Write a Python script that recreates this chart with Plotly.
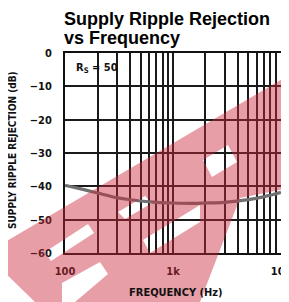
import plotly.graph_objects as go

# ---- data ----
freq_hz = [100, 150, 200, 300, 400, 500, 700, 1000, 1500, 2000, 3000, 5000, 7000, 10000]
ripple_rejection_db = [-39.7, -41.0, -42.0, -43.4, -44.0, -44.4, -44.8, -45.0, -45.1, -45.0, -44.8, -44.0, -43.1, -41.8]

x_tick_vals = [100, 200, 300, 400, 500, 600, 700, 800, 900,
               1000, 2000, 3000, 4000, 5000, 6000, 7000, 8000, 9000, 10000]
x_tick_text = ["100", "", "", "", "", "", "", "", "",
               "1k", "", "", "", "", "", "", "", "", "10k"]
y_tick_vals = [0, -10, -20, -30, -40, -50, -60]

title_lines = ["Supply Ripple Rejection", "vs Frequency"]
x_title = "FREQUENCY (Hz)"
y_title = "SUPPLY RIPPLE REJECTION (dB)"
note_text = "R<sub>S</sub> = 50"

# ---- layout geometry ----
# the page body adds an 8px margin, so the figure is 8px smaller on each side
OFF = 8
W, H = 289 - OFF, 302 - OFF
PL, PR, PT, PB = 65, 281, 53, 253          # plot area in window pixels
ML = PL - OFF
MT = PT - OFF
MR = W - (PR - OFF)
MB = H - (PB - OFF)
PW, PH = PR - PL, PB - PT


def px(x, y):
    """window pixel -> paper coordinates"""
    return (x - PL) / PW, (PB - y) / PH


def path(polys):
    s = ""
    for poly in polys:
        pts = [px(x, y) for x, y in poly]
        s += "M" + " L".join(f"{a:.4f},{b:.4f}" for a, b in pts) + " Z "
    return s


cond = "DejaVu Sans Condensed, Liberation Sans Narrow, Arial Narrow, sans-serif"

fig = go.Figure()
fig.add_trace(go.Scatter(
    x=freq_hz, y=ripple_rejection_db, mode="lines",
    line=dict(color="#707070", width=3.2, shape="spline"),
    hoverinfo="skip", showlegend=False,
))

fig.update_layout(
    width=W, height=H,
    margin=dict(l=ML, r=MR, t=MT, b=MB, pad=0, autoexpand=False),
    paper_bgcolor="white", plot_bgcolor="white",
    showlegend=False,
    xaxis=dict(
        type="log", range=[1.9995, 4.0005],
        tickvals=x_tick_vals, ticktext=x_tick_text,
        ticks="outside", ticklen=7, tickcolor="rgba(0,0,0,0)",
        ticklabeloverflow="allow", automargin=False,
        tickfont=dict(family=cond, size=11, color="#111", weight="bold"),
        showgrid=True, gridcolor="#1a1a1a", gridwidth=1.5,
        showline=True, linecolor="#111", linewidth=2, mirror=True,
        zeroline=False,
    ),
    yaxis=dict(
        range=[-60, 0], tickvals=y_tick_vals,
        ticks="outside", ticklen=9, tickcolor="rgba(0,0,0,0)",
        automargin=False,
        tickfont=dict(family=cond, size=11, color="#111", weight="bold"),
        showgrid=True, gridcolor="#1a1a1a", gridwidth=1.8,
        showline=True, linecolor="#111", linewidth=2, mirror=True,
        zeroline=False,
    ),
)

ann = []
for line, yc in zip(title_lines, [19, 38]):
    ann.append(dict(text=f"<b>{line}</b>", xref="paper", yref="paper",
                    x=px(62, 0)[0], y=px(0, yc)[1], xanchor="left", yanchor="middle",
                    showarrow=False, font=dict(family="Liberation Sans, Arial", size=18, color="#000")))
ann.append(dict(text=f"<b>{x_title}</b>", xref="paper", yref="paper",
                x=px(176, 0)[0], y=px(0, 292)[1], xanchor="center", yanchor="middle",
                showarrow=False, font=dict(family=cond, size=11, color="#111")))
ann.append(dict(text=f"<b>{y_title}</b>", xref="paper", yref="paper",
                x=px(12, 0)[0], y=px(0, 150)[1], xanchor="center", yanchor="middle",
                textangle=-90, showarrow=False, font=dict(family=cond, size=10, color="#111")))
ann.append(dict(text=f"<b>{note_text}</b>", xref="paper", yref="paper",
                x=px(97, 0)[0], y=px(0, 68)[1], xanchor="center", yanchor="middle",
                showarrow=False, font=dict(family=cond, size=11, color="#111")))
fig.update_layout(annotations=ann)

# ---- translucent watermark band ----
outer = [(0, 245), (289, 75), (289, 188), (240, 198), (200, 302), (35, 302), (0, 268)]
holes = [
    [(203, 160), (212, 177), (237, 162), (228, 145)],
    [(143, 240), (150, 253), (200, 222), (200, 205)],
    [(118, 212), (125, 219), (152, 203), (145, 196)],
    [(45, 252), (51, 261), (94, 233), (88, 224)],
    [(62, 283), (62, 302), (75, 302), (108, 274), (100, 262)],
]
fig.add_shape(type="path", xref="paper", yref="paper", path=path([outer] + holes),
              fillcolor="rgb(204,40,57)", opacity=0.45, line=dict(width=0), layer="above")

fig.write_html("out.html")
